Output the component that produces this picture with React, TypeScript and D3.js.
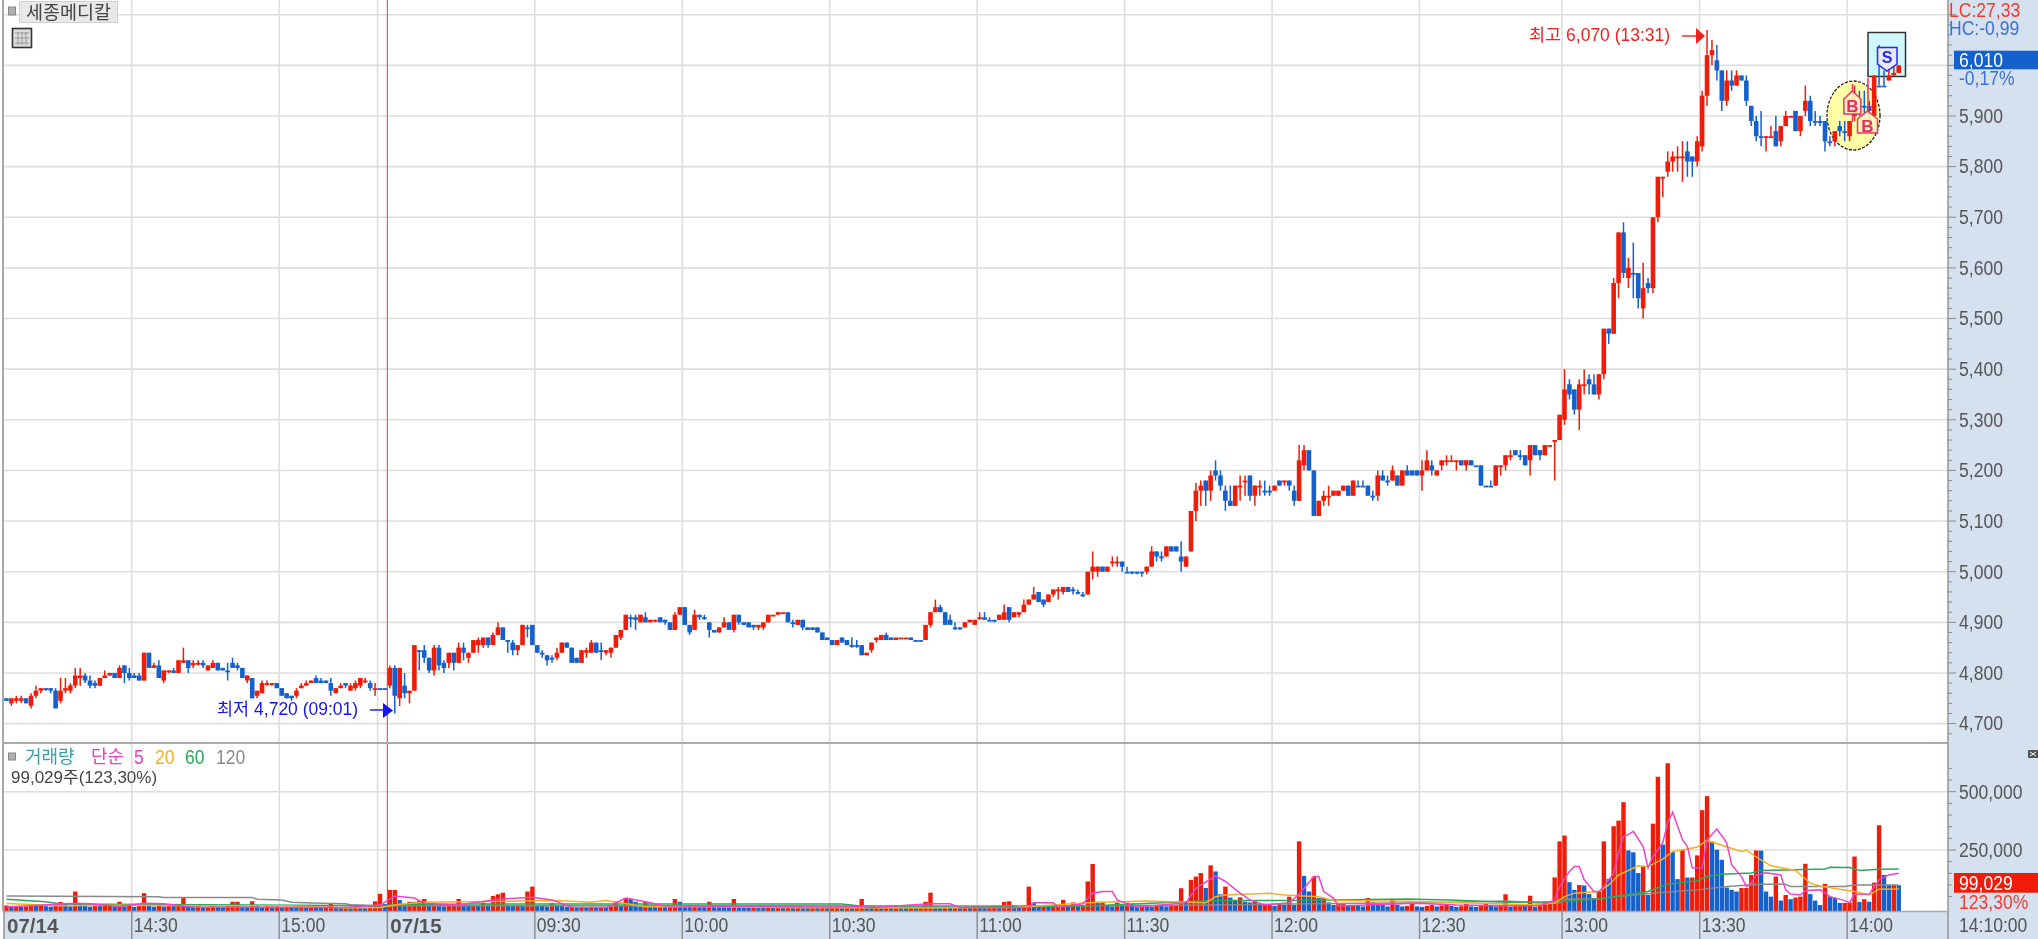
import { useEffect, useRef } from 'react';
import * as d3 from 'd3';

// one minute candles, 07/14 afternoon to 07/15 14:10
const opens = [
  4750,4740,4745,4745,4750,4735,4755,4765,4770,4770,
  4765,4745,4765,4765,4775,4790,4795,4785,4780,4775,
  4790,4795,4800,4790,4815,4800,4795,4795,4785,4840,
  4810,4815,4785,4805,4805,4800,4820,4825,4815,4820,
  4820,4805,4810,4820,4810,4805,4820,4815,4810,4785,
  4790,4755,4760,4780,4780,4780,4770,4760,4755,4755,
  4770,4775,4780,4790,4785,4785,4780,4760,4770,4780,
  4765,4770,4775,4785,4780,4770,4770,4770,4775,4810,
  4750,4775,4760,4765,4845,4845,4830,4805,4850,4820,
  4820,4840,4820,4850,4830,4840,4855,4855,4870,4855,
  4875,4890,4865,4860,4845,4855,4890,4895,4855,4840,
  4835,4830,4830,4840,4860,4850,4830,4820,4840,4840,
  4860,4845,4840,4840,4850,4870,4885,4910,4910,4900,
  4910,4900,4905,4910,4905,4900,4885,4915,4930,4895,
  4885,4915,4910,4900,4885,4880,4890,4900,4885,4915,
  4900,4900,4895,4890,4890,4900,4915,4915,4920,4920,
  4900,4895,4905,4890,4890,4890,4880,4870,4865,4855,
  4870,4865,4855,4855,4855,4835,4845,4865,4865,4875,
  4870,4865,4870,4870,4870,4865,4865,4865,4895,4920,
  4930,4920,4905,4890,4890,4890,4900,4895,4910,4910,
  4905,4905,4905,4905,4930,4910,4915,4920,4935,4945,
  4960,4945,4940,4955,4965,4960,4970,4965,4960,4955,
  4955,5000,5000,5010,5000,5020,5020,5020,5000,5000,
  5000,5000,5000,5010,5040,5030,5030,5050,5050,5030,
  5010,5040,5120,5160,5180,5160,5200,5190,5160,5140,
  5130,5170,5180,5190,5150,5170,5160,5160,5160,5180,
  5180,5180,5160,5140,5210,5240,5200,5110,5140,5150,
  5150,5150,5160,5170,5150,5170,5170,5170,5150,5150,
  5190,5180,5180,5190,5170,5200,5200,5200,5190,5200,
  5210,5190,5210,5220,5220,5220,5220,5210,5220,5210,
  5210,5170,5170,5170,5210,5210,5230,5240,5230,5230,
  5220,5250,5240,5230,5250,5260,5260,5300,5370,5360,
  5320,5370,5380,5370,5350,5390,5480,5470,5570,5670,
  5580,5590,5590,5520,5570,5560,5700,5780,5790,5810,
  5820,5820,5830,5820,5810,5840,5940,6020,6010,5990,
  5930,5970,5960,5980,5970,5920,5890,5860,5860,5860,
  5870,5850,5880,5900,5910,5870,5910,5930,5890,5890,
  5890,5850,5850,5880,5870,5860,5900,5920,5920,5920,
  5900,5960,5960,5970,5980,5985,
];
const closes = [
  4745,4750,4750,4750,4740,4755,4765,4770,4770,4765,
  4730,4765,4770,4775,4795,4795,4785,4775,4775,4790,
  4795,4800,4790,4810,4800,4790,4790,4785,4840,4810,
  4815,4790,4805,4805,4800,4825,4825,4810,4820,4820,
  4815,4815,4820,4805,4805,4805,4810,4810,4790,4795,
  4750,4765,4780,4780,4780,4770,4755,4750,4750,4765,
  4775,4780,4785,4780,4780,4780,4765,4770,4775,4775,
  4775,4780,4790,4785,4770,4770,4770,4770,4810,4755,
  4810,4760,4765,4855,4845,4830,4805,4850,4815,4810,
  4840,4820,4850,4840,4840,4865,4865,4870,4855,4875,
  4890,4865,4865,4845,4855,4895,4890,4855,4840,4840,
  4825,4830,4840,4860,4850,4820,4820,4845,4845,4860,
  4840,4845,4845,4850,4875,4885,4915,4910,4905,4915,
  4900,4905,4905,4900,4900,4885,4915,4930,4895,4880,
  4915,4910,4910,4885,4880,4890,4900,4885,4915,4900,
  4895,4890,4890,4895,4900,4915,4915,4920,4920,4900,
  4900,4905,4890,4885,4885,4880,4865,4865,4855,4865,
  4860,4855,4855,4855,4835,4840,4860,4870,4875,4865,
  4865,4870,4870,4870,4865,4865,4865,4895,4920,4930,
  4920,4895,4895,4890,4890,4900,4905,4905,4910,4905,
  4905,4905,4915,4920,4905,4920,4920,4935,4945,4955,
  4940,4935,4955,4965,4965,4970,4960,4965,4960,4955,
  5000,5010,5010,5000,5010,5020,5020,5010,5000,5000,
  5000,5000,5010,5040,5030,5030,5050,5040,5040,5020,
  5030,5120,5160,5170,5160,5190,5190,5170,5140,5130,
  5170,5170,5180,5150,5170,5170,5160,5160,5170,5170,
  5180,5170,5140,5220,5240,5200,5110,5140,5150,5150,
  5160,5160,5170,5150,5180,5170,5170,5150,5150,5190,
  5180,5180,5200,5170,5200,5190,5190,5190,5200,5220,
  5200,5200,5220,5220,5220,5220,5210,5220,5210,5210,
  5170,5170,5170,5210,5210,5230,5230,5230,5230,5210,
  5250,5230,5230,5250,5250,5260,5310,5360,5350,5320,
  5370,5370,5370,5350,5390,5480,5470,5570,5670,5590,
  5600,5590,5540,5560,5560,5700,5780,5780,5810,5820,
  5820,5820,5810,5810,5850,5940,6020,6030,5990,5930,
  5970,5960,5980,5970,5930,5890,5860,5860,5860,5860,
  5840,5880,5900,5900,5870,5900,5930,5890,5890,5890,
  5850,5850,5870,5870,5870,5890,5910,5920,5920,5910,
  5980,5960,5960,5980,5985,6000,
];
const highs = [
  4750,4750,4755,4755,4750,4760,4775,4770,4770,4770,
  4770,4790,4790,4780,4810,4810,4800,4795,4785,4790,
  4805,4800,4800,4815,4815,4810,4800,4800,4840,4840,
  4820,4825,4805,4805,4810,4825,4850,4825,4825,4825,
  4825,4815,4825,4820,4810,4820,4830,4820,4810,4795,
  4790,4765,4785,4785,4780,4780,4770,4760,4755,4770,
  4780,4785,4785,4795,4790,4785,4790,4770,4780,4780,
  4780,4785,4790,4790,4785,4780,4770,4770,4815,4815,
  4810,4800,4765,4855,4845,4855,4830,4855,4855,4825,
  4840,4840,4860,4860,4840,4865,4870,4870,4870,4880,
  4900,4890,4865,4865,4855,4895,4895,4895,4855,4845,
  4835,4835,4850,4860,4860,4850,4830,4845,4850,4865,
  4860,4860,4845,4850,4875,4885,4915,4915,4915,4915,
  4920,4905,4905,4910,4905,4900,4920,4930,4930,4895,
  4925,4915,4915,4900,4885,4890,4910,4900,4915,4915,
  4900,4900,4895,4895,4900,4915,4915,4920,4920,4920,
  4905,4905,4905,4890,4890,4890,4880,4870,4865,4865,
  4870,4865,4870,4865,4855,4840,4860,4870,4875,4880,
  4870,4870,4870,4870,4870,4865,4865,4895,4920,4945,
  4935,4920,4915,4900,4890,4900,4905,4905,4920,4920,
  4910,4905,4915,4935,4930,4920,4920,4945,4945,4970,
  4960,4945,4955,4965,4970,4970,4970,4970,4965,4960,
  5000,5040,5010,5010,5010,5030,5030,5020,5010,5000,
  5000,5000,5010,5050,5040,5040,5050,5050,5050,5060,
  5030,5120,5175,5180,5180,5200,5220,5200,5170,5170,
  5170,5190,5190,5190,5170,5180,5180,5170,5170,5180,
  5180,5180,5170,5250,5250,5240,5200,5140,5160,5170,
  5160,5160,5170,5170,5180,5180,5180,5170,5160,5200,
  5200,5190,5210,5190,5200,5210,5200,5200,5220,5240,
  5220,5200,5220,5230,5230,5220,5220,5220,5220,5210,
  5210,5170,5180,5210,5210,5230,5240,5240,5240,5230,
  5250,5250,5240,5250,5250,5260,5310,5400,5380,5360,
  5380,5400,5390,5390,5390,5480,5480,5580,5670,5690,
  5620,5650,5590,5610,5580,5700,5780,5780,5830,5830,
  5840,5850,5850,5820,5860,5950,6070,6050,6040,5990,
  5990,5990,5990,5980,5980,5920,5900,5910,5860,5880,
  5900,5880,5910,5900,5910,5900,5960,5940,5910,5900,
  5890,5860,5870,5890,5890,5890,5960,5950,5950,5930,
  5980,6040,5990,6000,6000,6000,
];
const lows = [
  4745,4735,4740,4740,4740,4730,4750,4760,4765,4760,
  4730,4740,4760,4760,4770,4775,4780,4770,4770,4775,
  4790,4795,4790,4790,4780,4785,4790,4785,4785,4810,
  4810,4790,4780,4800,4800,4800,4820,4800,4810,4815,
  4810,4805,4810,4805,4805,4785,4810,4805,4790,4780,
  4750,4750,4760,4775,4775,4770,4755,4750,4745,4750,
  4770,4775,4780,4780,4780,4780,4755,4760,4770,4770,
  4765,4765,4770,4780,4765,4755,4770,4770,4770,4720,
  4735,4750,4740,4765,4805,4820,4800,4795,4805,4800,
  4810,4805,4820,4825,4820,4840,4840,4850,4850,4855,
  4875,4865,4840,4835,4835,4855,4870,4855,4840,4830,
  4815,4820,4825,4840,4850,4820,4820,4820,4830,4840,
  4840,4825,4835,4830,4850,4865,4885,4890,4885,4900,
  4900,4900,4900,4900,4895,4885,4885,4915,4895,4875,
  4885,4905,4905,4870,4880,4880,4890,4885,4880,4895,
  4895,4890,4885,4885,4885,4900,4915,4915,4920,4900,
  4890,4895,4885,4885,4885,4880,4865,4865,4855,4855,
  4860,4855,4850,4850,4835,4835,4840,4860,4865,4865,
  4865,4865,4870,4870,4865,4865,4865,4865,4890,4920,
  4920,4895,4895,4885,4885,4890,4900,4895,4905,4905,
  4905,4900,4905,4905,4900,4910,4910,4920,4935,4945,
  4940,4930,4940,4950,4945,4955,4960,4955,4955,4950,
  4955,4985,4990,5000,5000,5010,5010,5000,5000,4995,
  4995,4990,4995,5010,5020,5020,5030,5040,5040,5000,
  5010,5040,5100,5130,5130,5140,5180,5160,5120,5130,
  5130,5140,5150,5140,5130,5150,5150,5150,5160,5170,
  5170,5160,5130,5140,5200,5200,5110,5110,5130,5130,
  5150,5150,5160,5150,5150,5170,5170,5150,5140,5140,
  5180,5170,5180,5170,5170,5190,5190,5190,5160,5200,
  5190,5190,5200,5210,5220,5200,5210,5200,5210,5210,
  5170,5170,5170,5170,5190,5200,5220,5230,5220,5210,
  5190,5230,5220,5230,5250,5180,5260,5290,5340,5310,
  5280,5350,5350,5350,5340,5380,5450,5470,5540,5580,
  5560,5540,5520,5500,5550,5550,5690,5740,5780,5790,
  5790,5770,5780,5780,5800,5830,5920,6000,5970,5910,
  5920,5950,5960,5970,5920,5880,5850,5840,5830,5860,
  5840,5840,5880,5900,5870,5860,5900,5880,5880,5880,
  5830,5840,5840,5860,5850,5850,5890,5900,5900,5890,
  5900,5960,5960,5970,5980,5985,
];
// flat candles that are drawn blue
const flatDown = [8,45,76,77,84,102,106,109,111,121,127,142,160,172,173,185,186,193,194,200,201,217,218,219,228,229,230,231,235,256,257,275,276,278,281,299,301,302,308,331,357,368,369,371,374,377,378,381,382];

// volume in thousands of shares
const volumes = [
  12,6,9,6,8,14,13,14,9,7,
  13,27,20,8,72,18,12,7,14,10,
  12,14,8,28,8,10,6,12,65,12,
  7,16,8,13,10,14,44,9,8,12,
  6,7,12,8,6,13,28,28,8,7,
  30,10,6,10,8,9,6,7,6,5,
  7,6,8,6,5,7,20,6,5,6,
  5,7,6,5,8,30,62,18,79,79,
  36,12,28,28,32,40,14,20,12,8,
  10,18,40,12,10,14,10,24,16,53,
  60,67,14,10,12,10,72,93,14,10,
  8,22,12,10,6,8,5,6,5,7,
  5,6,5,8,28,10,44,40,28,10,
  28,8,6,12,7,10,40,28,12,8,
  12,7,6,28,10,8,7,6,40,12,
  9,6,8,6,5,7,5,6,5,7,
  5,6,5,4,6,4,5,4,5,6,
  4,6,4,5,40,8,5,6,4,5,
  4,6,5,4,5,4,6,28,67,10,
  6,8,5,6,4,7,5,8,6,5,
  7,9,5,27,30,12,8,14,93,24,
  8,10,7,12,14,36,10,25,8,12,
  115,190,28,28,10,8,24,12,24,20,
  8,10,7,6,14,10,8,12,12,86,
  30,122,136,151,87,184,158,60,93,46,
  36,47,28,25,28,14,18,18,10,20,
  14,50,14,287,139,72,136,44,44,25,
  14,18,18,10,12,10,8,44,25,20,
  14,8,36,14,8,10,20,8,6,10,
  14,8,12,16,10,6,9,18,8,6,
  14,22,10,8,12,60,7,11,11,10,
  54,6,11,28,28,132,287,312,112,79,
  100,98,61,44,72,287,126,352,376,455,
  248,240,151,179,57,363,564,273,622,241,
  125,251,132,132,227,421,481,287,251,208,
  89,79,72,87,87,143,248,247,72,50,
  136,33,57,39,46,50,191,61,33,14,
  105,50,44,23,23,24,222,27,39,28,
  110,356,143,100,100,99,
];

// moving averages as [bar, thousands]
const ma5 = [[0,6],[14,22],[17,20],[23,8],[28,22],[32,20],[38,5],[69,3],[76,14],[79,53],[83,44],[85,22],[92,14],[100,39],[107,47],[111,36],[115,5],[122,3],[126,44],[131,24],[134,10],[168,6],[174,8],[176,3],[188,19],[192,19],[194,3],[208,3],[209,24],[213,24],[214,5],[219,19],[221,65],[223,72],[225,72],[226,36],[228,19],[230,5],[240,24],[242,86],[246,139],[248,115],[251,65],[253,36],[256,14],[261,24],[263,60],[266,136],[267,136],[268,72],[270,44],[271,10],[277,14],[284,19],[287,22],[295,14],[305,11],[312,11],[315,36],[316,93],[318,158],[319,179],[320,179],[321,122],[323,72],[324,72],[325,93],[327,151],[328,238],[329,309],[330,316],[331,330],[333,265],[334,173],[335,222],[337,281],[338,367],[339,412],[341,294],[342,265],[343,173],[345,173],[346,294],[348,340],[350,281],[351,187],[353,136],[354,93],[355,108],[356,143],[358,152],[361,143],[362,79],[363,61],[365,57],[366,76],[369,79],[370,67],[371,50],[374,33],[375,24],[376,60],[379,61],[381,122],[383,143],[385,150]];
const ma20 = [[0,21],[11,11],[23,13],[40,11],[57,11],[69,1],[76,3],[80,17],[85,26],[112,33],[119,26],[122,33],[130,7],[145,7],[160,2],[185,1],[205,3],[220,24],[232,31],[244,24],[246,50],[248,57],[257,65],[260,57],[267,50],[270,33],[285,30],[305,18],[311,14],[315,23],[317,50],[319,65],[324,72],[326,100],[328,143],[330,162],[332,182],[334,179],[337,211],[339,244],[341,250],[344,263],[346,291],[349,270],[353,244],[354,250],[356,220],[359,182],[361,174],[364,162],[367,108],[369,96],[373,82],[376,72],[379,57],[381,82],[385,83]];
const ma60 = [[0,39],[8,28],[11,18],[49,14],[76,11],[80,15],[95,18],[170,18],[175,7],[195,5],[220,10],[246,33],[262,33],[285,40],[295,34],[305,26],[315,28],[324,40],[328,53],[334,72],[338,103],[344,118],[346,136],[349,146],[355,151],[357,162],[370,169],[371,176],[375,175],[377,162],[381,167],[385,169]];
const ma120 = [[0,53],[31,50],[32,46],[50,46],[51,39],[56,36],[58,26],[62,23],[69,19],[70,15],[76,11],[120,11],[200,10],[240,13],[265,19],[290,24],[305,31],[312,23],[316,23],[317,40],[324,40],[327,50],[336,67],[344,79],[350,93],[357,103],[362,103],[363,93],[374,93],[376,100],[385,100]];

const priceTicks = [4700,4800,4900,5000,5100,5200,5300,5400,5500,5600,5700,5800,5900];
const priceGrid = [...priceTicks, 6000, 6100];
const volumeTicks = [250, 500];
const tickBars = [0,26,56,78,108,138,168,198,228,258,288,317,345,375];
const tickLabels = ['07/14','14:30','15:00','07/15','09:30','10:00','10:30','11:00','11:30','12:00','12:30','13:00','13:30','14:00'];
const extraGridBars = [76];

const LATIN = '"Liberation Sans", sans-serif';
const KOREAN = '"Liberation Sans", "Noto Sans CJK KR", sans-serif';
const RED = '#ee1c08';
const BLUE = '#1460cc';

export default function App() {
  const svgRef = useRef<SVGSVGElement>(null);

  useEffect(() => {
    if (!svgRef.current) return;
    const svg = d3.select(svgRef.current);
    svg.selectAll('*').remove();

    const axisX = 1948;
    const paneTop = 743;
    const paneBottom = 911;
    const barStep = 4.915;

    const x = d3.scaleLinear().domain([0, 395]).range([4, 4 + 395 * barStep]);
    const yPrice = d3.scaleLinear().domain([5000, 6100]).range([571.7, 14.7]);
    const yVol = d3.scaleLinear().domain([0, 500]).range([908.3, 791.7]);
    const mid = (i: number) => x(i) + barStep / 2;

    const text = (
      px: number, py: number, label: string, size: number, fill: string,
      family = LATIN, anchor = 'start', weight = 'normal', scaleX = 1,
    ) =>
      svg.append('text')
        .attr('transform', `translate(${px},${py}) scale(${scaleX},1)`)
        .attr('dominant-baseline', 'central')
        .attr('text-anchor', anchor)
        .attr('font-family', family)
        .attr('font-size', size)
        .attr('font-weight', weight)
        .attr('fill', fill)
        .text(label);
    // tall narrow digits of the terminal's font
    const digits = (px: number, py: number, label: string, fill: string) =>
      text(px, py, label, 19.5, fill, LATIN, 'start', 'normal', 0.9);

    svg.append('rect').attr('width', 2038).attr('height', 939).attr('fill', '#ffffff');

    // Right and bottom strips
    svg.append('rect').attr('x', axisX).attr('y', 0).attr('width', 2038 - axisX).attr('height', 939).attr('fill', '#d6e1ef');
    svg.append('rect').attr('x', 4).attr('y', paneBottom).attr('width', axisX).attr('height', 28).attr('fill', '#d6e1ef');

    // Grid lines
    svg.selectAll('.grid-price').data(priceGrid).enter().append('line')
      .attr('x1', 4).attr('x2', axisX)
      .attr('y1', (d) => yPrice(d)).attr('y2', (d) => yPrice(d))
      .attr('stroke', '#dedede').attr('stroke-width', 1.6);
    svg.selectAll('.grid-vol').data(volumeTicks).enter().append('line')
      .attr('x1', 4).attr('x2', axisX)
      .attr('y1', (d) => yVol(d)).attr('y2', (d) => yVol(d))
      .attr('stroke', '#dedede').attr('stroke-width', 1.6);
    svg.selectAll('.grid-time').data([...tickBars.slice(1), ...extraGridBars].filter((b) => b !== 78)).enter().append('line')
      .attr('x1', (d) => x(d)).attr('x2', (d) => x(d))
      .attr('y1', 0).attr('y2', paneBottom)
      .attr('stroke', '#dedede').attr('stroke-width', 1.6);

    // Buy zone under the candles
    svg.append('ellipse')
      .attr('cx', 1853.5).attr('cy', 115.5).attr('rx', 26.5).attr('ry', 34.5)
      .attr('fill', '#ffff99').attr('fill-opacity', 0.85)
      .attr('stroke', '#222').attr('stroke-width', 1.3).attr('stroke-dasharray', '3,1.5');
    svg.append('rect')
      .attr('x', 1868).attr('y', 32.5).attr('width', 37.5).attr('height', 44)
      .attr('fill', '#c8f6fc').attr('fill-opacity', 0.9)
      .attr('stroke', '#333').attr('stroke-width', 1.5);

    // Day divider
    svg.append('line')
      .attr('x1', x(78)).attr('x2', x(78)).attr('y1', 0).attr('y2', paneBottom)
      .attr('stroke', '#e85a50').attr('stroke-width', 1.2);

    // Candles
    const down = new Set(flatDown);
    const candleColor = (i: number) =>
      closes[i] < opens[i] || down.has(i) ? BLUE : RED;
    const bars = d3.range(opens.length);
    svg.selectAll('.wick').data(bars).enter().append('line')
      .attr('x1', (i) => mid(i)).attr('x2', (i) => mid(i))
      .attr('y1', (i) => yPrice(highs[i])).attr('y2', (i) => yPrice(lows[i]))
      .attr('stroke', (i) => candleColor(i)).attr('stroke-width', 1.5);
    svg.selectAll('.body').data(bars).enter().append('rect')
      .attr('x', (i) => mid(i) - 2.3)
      .attr('y', (i) => yPrice(Math.max(opens[i], closes[i])))
      .attr('width', 4.6)
      .attr('height', (i) => Math.max(1.8, Math.abs(yPrice(opens[i]) - yPrice(closes[i]))))
      .attr('fill', (i) => candleColor(i));

    // Volume bars: red when above the previous bar
    const volColor = (i: number) => (i > 0 && volumes[i] < volumes[i - 1] ? BLUE : RED);
    svg.selectAll('.vol').data(bars).enter().append('rect')
      .attr('x', (i) => mid(i) - 2.2)
      .attr('y', (i) => yVol(volumes[i]))
      .attr('width', 4.4)
      .attr('height', (i) => paneBottom - yVol(volumes[i]))
      .attr('fill', (i) => volColor(i));

    // Moving averages
    const maLine = d3.line<number[]>().x((d) => mid(d[0])).y((d) => yVol(d[1]));
    [
      { data: ma120, color: '#8a8a8a' },
      { data: ma60, color: '#2aa85a' },
      { data: ma20, color: '#f5b020' },
      { data: ma5, color: '#ee44c8' },
    ].forEach((s) => {
      svg.append('path')
        .attr('d', maLine(s.data))
        .attr('fill', 'none')
        .attr('stroke', s.color)
        .attr('stroke-width', 1.5);
    });

    // Pane borders
    svg.append('line').attr('x1', 3).attr('x2', 3).attr('y1', 0).attr('y2', paneBottom).attr('stroke', '#a8a8a8').attr('stroke-width', 2);
    svg.append('line').attr('x1', 3).attr('x2', axisX).attr('y1', paneTop).attr('y2', paneTop).attr('stroke', '#aaaaaa').attr('stroke-width', 2);
    svg.append('line').attr('x1', 3).attr('x2', axisX).attr('y1', paneBottom + 0.5).attr('y2', paneBottom + 0.5).attr('stroke', '#a8a8a8').attr('stroke-width', 1.6);
    svg.append('line').attr('x1', axisX).attr('x2', axisX).attr('y1', 0).attr('y2', 939).attr('stroke', '#9a9a9a').attr('stroke-width', 1.6);

    // Price axis
    d3.range(4680, 6120, 20).forEach((p) => {
      const major = p % 100 === 0;
      svg.append('line')
        .attr('x1', axisX).attr('x2', axisX + (major ? 8 : 4))
        .attr('y1', yPrice(p)).attr('y2', yPrice(p))
        .attr('stroke', '#8a8a8a').attr('stroke-width', 1);
    });
    priceTicks.forEach((p) => {
      digits(1959, yPrice(p), d3.format(',')(p), '#555555');
    });

    // Volume axis
    d3.range(50, 650, 50).forEach((v) => {
      const major = v % 250 === 0;
      svg.append('line')
        .attr('x1', axisX).attr('x2', axisX + (major ? 8 : 4))
        .attr('y1', yVol(v)).attr('y2', yVol(v))
        .attr('stroke', '#8a8a8a').attr('stroke-width', 1);
    });
    volumeTicks.forEach((v) => {
      digits(1959, yVol(v), d3.format(',')(v * 1000), '#555555');
    });

    // Time axis
    tickBars.forEach((b, i) => {
      svg.append('line')
        .attr('x1', x(b)).attr('x2', x(b)).attr('y1', paneBottom).attr('y2', 939)
        .attr('stroke', '#8a8a8a').attr('stroke-width', 1.4);
      if (tickLabels[i].includes('/')) {
        text(x(b) + 3, 925, tickLabels[i], 20.5, '#555555', LATIN, 'start', 'bold');
      } else {
        digits(x(b) + 2, 925, tickLabels[i], '#555555');
      }
    });
    digits(1959, 925, '14:10:00', '#555555');

    // Last price tags
    digits(1949, 10, 'LC:27,33', '#f03c30');
    digits(1949, 28, 'HC:-0,99', '#3a72d8');
    svg.append('rect').attr('x', 1954).attr('y', 50.7).attr('width', 84).attr('height', 18.6).attr('fill', BLUE);
    digits(1959, 60, '6,010', '#ffffff');
    digits(1959, 78, '-0,17%', '#3a72d8');
    svg.append('rect').attr('x', 1954).attr('y', 873).attr('width', 84).attr('height', 19.7).attr('fill', RED);
    digits(1959, 883, '99,029', '#ffffff');
    digits(1959, 902, '123,30%', '#f03c30');

    // High and low call-outs
    text(1529, 35, '최고 6,070 (13:31)', 17.5, '#f02020', KOREAN);
    svg.append('line').attr('x1', 1682).attr('x2', 1697).attr('y1', 36).attr('y2', 36).attr('stroke', '#f02020').attr('stroke-width', 1.4);
    svg.append('path').attr('d', 'M1696,28 L1705,36 L1696,44 Z').attr('fill', '#f02020');
    text(217, 709, '최저 4,720 (09:01)', 17.5, '#1414ee', KOREAN);
    svg.append('line').attr('x1', 370).attr('x2', 384).attr('y1', 710).attr('y2', 710).attr('stroke', '#1414ee').attr('stroke-width', 1.4);
    svg.append('path').attr('d', 'M383,703 L393,710.5 L383,718 Z').attr('fill', '#1414ee');

    // Buy and sell signals
    const house = (cx: number, apex: number, top: number, bottom: number, half: number) => {
      svg.append('path')
        .attr('d', `M${cx},${apex} L${cx + half},${top} L${cx + half},${bottom} L${cx - half},${bottom} L${cx - half},${top} Z`)
        .attr('fill', '#fff6b8').attr('fill-opacity', 0.9)
        .attr('stroke', '#f03070').attr('stroke-width', 1.5);
      text(cx, (top + bottom) / 2, 'B', 17, '#e8286a', LATIN, 'middle', 'bold');
    };
    svg.append('line').attr('x1', 1852.4).attr('x2', 1852.4).attr('y1', 84).attr('y2', 122).attr('stroke', '#f03070').attr('stroke-width', 1.4);
    svg.append('line').attr('x1', 1868).attr('x2', 1868).attr('y1', 78).attr('y2', 114).attr('stroke', '#f03070').attr('stroke-width', 1.6);
    house(1852.4, 91, 99, 114, 8.5);
    house(1867.5, 111, 119, 133, 10);
    svg.append('path')
      .attr('d', 'M1877.5,47.5 L1897,47.5 L1897,64 L1887,71 L1877.5,64 Z')
      .attr('fill', '#e8e8ff').attr('fill-opacity', 0.95)
      .attr('stroke', '#2a2ae0').attr('stroke-width', 1.5);
    text(1887, 57, 'S', 16, '#2a2ae0', LATIN, 'middle', 'bold');

    // Stock title
    svg.append('rect').attr('x', 8.5).attr('y', 7).attr('width', 7).attr('height', 8).attr('fill', '#b0b0b0').attr('stroke', '#888888');
    svg.append('rect').attr('x', 19.5).attr('y', 1.5).attr('width', 98).attr('height', 21).attr('fill', '#e8e8e8').attr('stroke', '#d0d0d0');
    text(68.5, 12, '세종메디칼', 18.5, '#444444', KOREAN, 'middle');
    svg.append('rect').attr('x', 12.5).attr('y', 28.5).attr('width', 19).attr('height', 19).attr('fill', '#dddddd').attr('stroke', '#333333').attr('stroke-width', 1.6);
    [18, 22, 26].forEach((vx) => {
      svg.append('line').attr('x1', vx).attr('x2', vx).attr('y1', 32).attr('y2', 45).attr('stroke', '#999999');
    });
    [33, 38, 43].forEach((hy) => {
      svg.append('line').attr('x1', 15).attr('x2', 29).attr('y1', hy).attr('y2', hy).attr('stroke', '#999999');
    });

    // Volume legend
    svg.append('rect').attr('x', 8.5).attr('y', 753).attr('width', 7).attr('height', 7).attr('fill', '#b0b0b0').attr('stroke', '#888888');
    text(25, 756.5, '거래량', 18, '#3aa0a8', KOREAN);
    text(91, 756.5, '단순', 18, '#e840c0', KOREAN);
    digits(134, 757, '5', '#e840c0');
    digits(155, 757, '20', '#f5b020');
    digits(185, 757, '60', '#2aa85a');
    digits(216, 757, '120', '#8a8a8a');
    text(11, 777, '99,029주(123,30%)', 17, '#444444', KOREAN);

    // Pane button, top right of the volume pane
    svg.append('rect').attr('x', 2028).attr('y', 750).attr('width', 10).attr('height', 8).attr('fill', '#555555');
    svg.append('path').attr('d', 'M2030,752 L2036,756 M2036,752 L2030,756').attr('stroke', '#ffffff').attr('stroke-width', 1);
  }, []);

  return (
    <svg
      ref={svgRef}
      width={2038}
      height={939}
      style={{ position: 'absolute', left: 0, top: 0, filter: 'blur(0.5px)' }}
    />
  );
}
